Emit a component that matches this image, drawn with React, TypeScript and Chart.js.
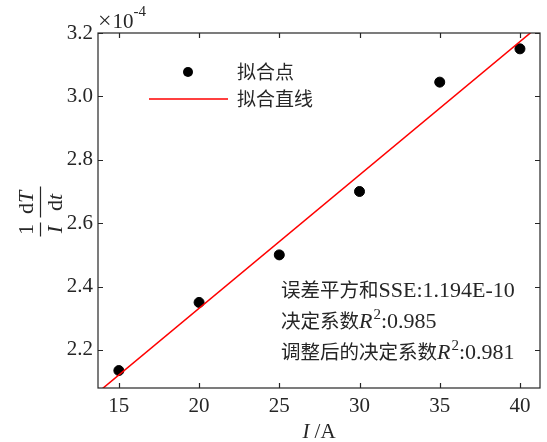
import React, { useEffect, useRef } from 'react';
import { Chart, registerables } from 'chart.js';

Chart.register(...registerables);

// Data (y values in units of 1e-4)
const currentA = [15, 20, 25, 30, 35, 40];
const rateValues = [2.135, 2.35, 2.5, 2.7, 3.045, 3.15];
const fitLineX = [13, 42];
const fitLineY = [2.037, 3.257];
const xTicks = [15, 20, 25, 30, 35, 40];
const yTicks = [2.2, 2.4, 2.6, 2.8, 3.0, 3.2];
const yTickLabels = ['2.2', '2.4', '2.6', '2.8', '3.0', '3.2'];
const legendLabels = ['拟合点', '拟合直线'];
const statLines = [
  [{ t: '误差平方和', cjk: true }, { t: 'SSE:1.194E-10' }],
  [{ t: '决定系数', cjk: true }, { t: 'R', it: true }, { t: '2', sup: true }, { t: ':0.985' }],
  [{ t: '调整后的决定系数', cjk: true }, { t: 'R', it: true }, { t: '2', sup: true }, { t: ':0.981' }],
];

const SERIF = '"Liberation Serif", "Times New Roman", serif';
const CJK = '"Noto Sans CJK SC", sans-serif';
const AXIS = '#262626';

function drawRuns(ctx: CanvasRenderingContext2D, runs: any[], x: number, y: number, size: number, cjkSize: number) {
  let cx = x;
  for (const r of runs) {
    const fs = r.sup ? Math.round(size * 0.68) : r.cjk ? cjkSize : size;
    const fam = r.cjk ? CJK : SERIF;
    ctx.font = `${r.it ? 'italic ' : ''}${fs}px ${fam}`;
    const yy = r.sup ? y - size * 0.42 : y;
    ctx.fillText(r.t, cx, yy);
    cx += ctx.measureText(r.t).width + (r.it ? 1 : 0);
  }
}

const decorPlugin = {
  id: 'decor',
  afterDraw(chart: any) {
    const ctx = chart.ctx as CanvasRenderingContext2D;
    const { left, right, top, bottom } = chart.chartArea;
    const xs = chart.scales.x;
    const ys = chart.scales.y;
    ctx.save();
    // box
    ctx.strokeStyle = AXIS;
    ctx.lineWidth = 1.2;
    ctx.strokeRect(left, top, right - left, bottom - top);
    // inward ticks
    const tl = 5;
    ctx.beginPath();
    for (const v of xTicks) {
      const px = Math.round(xs.getPixelForValue(v)) + 0.5;
      ctx.moveTo(px, bottom);
      ctx.lineTo(px, bottom - tl);
      ctx.moveTo(px, top);
      ctx.lineTo(px, top + tl);
    }
    for (const v of yTicks) {
      const py = Math.round(ys.getPixelForValue(v)) + 0.5;
      ctx.moveTo(left, py);
      ctx.lineTo(left + tl, py);
      ctx.moveTo(right, py);
      ctx.lineTo(right - tl, py);
    }
    ctx.stroke();

    ctx.fillStyle = AXIS;
    ctx.textBaseline = 'alphabetic';
    ctx.textAlign = 'left';
    // exponent label
    ctx.font = `24px ${SERIF}`;
    ctx.fillText('×', left, 28);
    const wx = ctx.measureText('×').width;
    ctx.font = `21px ${SERIF}`;
    ctx.fillText('10', left + wx + 1, 28);
    const w10 = ctx.measureText('10').width;
    ctx.font = `15px ${SERIF}`;
    ctx.fillText('-4', left + wx + 1 + w10, 16);

    // x axis title
    ctx.font = `italic 21px ${SERIF}`;
    const wI = ctx.measureText('I ').width;
    ctx.font = `21px ${SERIF}`;
    const wA = ctx.measureText('/A').width;
    const cx = (left + right) / 2;
    const sx = cx - (wI + wA) / 2;
    ctx.font = `italic 21px ${SERIF}`;
    ctx.fillText('I ', sx, 438);
    ctx.font = `21px ${SERIF}`;
    ctx.fillText('/A', sx + wI, 438);

    // y axis title (rotated fraction)
    ctx.save();
    ctx.translate(40, (top + bottom) / 2);
    ctx.rotate(-Math.PI / 2);
    const fs = 22;
    ctx.font = `${fs}px ${SERIF}`;
    ctx.textAlign = 'center';
    ctx.fillText('1', -19, -7);
    ctx.font = `italic ${fs}px ${SERIF}`;
    ctx.fillText('I', -19, 22);
    ctx.lineWidth = 1.2;
    ctx.beginPath();
    ctx.moveTo(-26, 0.5);
    ctx.lineTo(-12, 0.5);
    ctx.stroke();
    ctx.textAlign = 'left';
    ctx.font = `${fs}px ${SERIF}`;
    const wd = ctx.measureText('d').width;
    ctx.font = `italic ${fs}px ${SERIF}`;
    const wT = ctx.measureText('T').width;
    const numW = wd + wT;
    const c2 = 8;
    ctx.font = `${fs}px ${SERIF}`;
    ctx.fillText('d', c2 - numW / 2, -7);
    ctx.font = `italic ${fs}px ${SERIF}`;
    ctx.fillText('T', c2 - numW / 2 + wd, -7);
    const wt = ctx.measureText('t').width;
    const denW = wd + wt;
    ctx.font = `${fs}px ${SERIF}`;
    ctx.fillText('d', c2 - denW / 2, 22);
    ctx.font = `italic ${fs}px ${SERIF}`;
    ctx.fillText('t', c2 - denW / 2 + wd, 22);
    ctx.beginPath();
    ctx.moveTo(-7, 0.5);
    ctx.lineTo(24, 0.5);
    ctx.stroke();
    ctx.restore();

    // legend
    ctx.fillStyle = '#000';
    ctx.beginPath();
    ctx.arc(188, 72, 5, 0, Math.PI * 2);
    ctx.fill();
    ctx.strokeStyle = '#ff0000';
    ctx.lineWidth = 1.5;
    ctx.beginPath();
    ctx.moveTo(149, 99);
    ctx.lineTo(228, 99);
    ctx.stroke();
    ctx.fillStyle = AXIS;
    ctx.textBaseline = 'middle';
    ctx.textAlign = 'left';
    ctx.font = `19px ${CJK}`;
    ctx.fillText(legendLabels[0], 237, 72);
    ctx.fillText(legendLabels[1], 237, 99);

    // statistics text
    ctx.textBaseline = 'alphabetic';
    const baseY = [297, 328, 359];
    statLines.forEach((runs, i) => drawRuns(ctx, runs, 281, baseY[i], 22, 19.5));

    ctx.restore();
  },
};

export default function App() {
  const ref = useRef<HTMLCanvasElement | null>(null);
  useEffect(() => {
    if (!ref.current) return;
    const chart = new Chart(ref.current, {
      type: 'scatter',
      data: {
        datasets: [
          {
            type: 'line',
            label: legendLabels[1],
            data: fitLineX.map((x, i) => ({ x, y: fitLineY[i] })),
            borderColor: '#ff0000',
            borderWidth: 1.5,
            pointRadius: 0,
            fill: false,
          } as any,
          {
            label: legendLabels[0],
            data: currentA.map((x, i) => ({ x, y: rateValues[i] })),
            backgroundColor: '#000',
            borderColor: '#000',
            pointRadius: 5,
          },
        ],
      },
      options: {
        responsive: false,
        animation: false,
        layout: { padding: { top: 33, right: 7, left: 0, bottom: 0 } },
        plugins: { legend: { display: false }, tooltip: { enabled: false } },
        scales: {
          x: {
            type: 'linear',
            min: 13.7,
            max: 41.25,
            grid: { display: false, drawTicks: false },
            border: { display: false },
            afterFit: (s: any) => { s.height = 54; },
            afterBuildTicks: (s: any) => { s.ticks = xTicks.map((v) => ({ value: v })); },
            ticks: {
              padding: 6,
              color: AXIS,
              font: { family: SERIF, size: 21 },
              callback: (v: any) => String(v),
            },
          },
          y: {
            type: 'linear',
            min: 2.08,
            max: 3.2,
            grid: { display: false, drawTicks: false },
            border: { display: false },
            afterFit: (s: any) => { s.width = 98; },
            afterBuildTicks: (s: any) => { s.ticks = yTicks.map((v) => ({ value: v })); },
            ticks: {
              padding: 5,
              color: AXIS,
              font: { family: SERIF, size: 21 },
              callback: (v: any) => {
                const i = yTicks.findIndex((t) => Math.abs(t - v) < 1e-6);
                return i >= 0 ? yTickLabels[i] : '';
              },
            },
          },
        },
      },
      plugins: [decorPlugin],
    });
    return () => chart.destroy();
  }, []);
  return (
    <div style={{ position: 'fixed', left: 0, top: 0, width: 547, height: 442, background: '#fff' }}>
      <canvas ref={ref} width={547} height={442} style={{ width: 547, height: 442, display: 'block' }} />
    </div>
  );
}
